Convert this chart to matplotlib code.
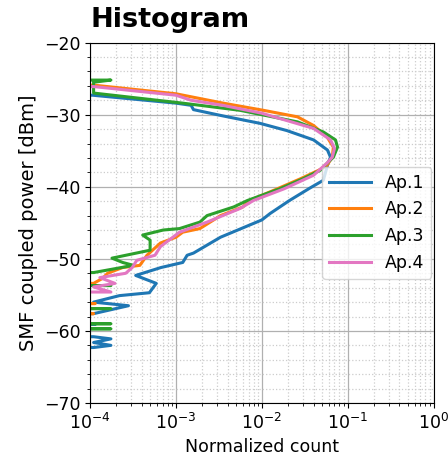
import numpy as np
import matplotlib
matplotlib.use("Agg")
import matplotlib.pyplot as plt
from matplotlib.ticker import MultipleLocator

# histogram of SMF coupled power per aperture (0 = empty bin)
power_ap1 = [-27.0, -27.3, -28.4, -28.7, -29.3, -30.1, -31.2, -32.2, -33.5, -34.9, -35.9, -36.7,
             -39.1, -40.2, -41.9, -43.7, -44.6, -47.0, -49.2, -49.5, -50.5, -51.2, -52.3, -53.4,
             -54.7, -55.1, -56.0, -56.5, -57.6, -58.2, -58.9, -59.1, -59.4, -60.6, -60.8, -61.1,
             -61.6, -62.0, -62.3, -62.6]
count_ap1 = [0, 1.07e-4, 1.0e-3, 1.5e-3, 1.6e-3, 3.3e-3, 9.5e-3, 1.95e-2, 4.0e-2, 5.8e-2, 6.3e-2, 5.9e-2,
             5.2e-2, 3.6e-2, 2.1e-2, 1.25e-2, 1.0e-2, 3.3e-3, 1.6e-3, 1.35e-3, 1.2e-3, 6.7e-4, 3.4e-4, 5.9e-4,
             4.9e-4, 2.2e-4, 1.1e-4, 2.8e-4, 1.1e-4, 0, 0, 1.15e-4, 0, 0, 1.1e-4, 1.75e-4,
             1.1e-4, 1.75e-4, 1.1e-4, 0]

power_ap2 = [-25.6, -25.9, -27.1, -28.4, -29.4, -30.3, -31.5, -33.1, -34.5, -35.9, -37.0, -37.7,
             -38.9, -40.3, -41.9, -42.8, -44.0, -45.8, -46.3, -47.0, -47.8, -49.5, -50.9, -51.2,
             -52.0, -52.7, -53.4, -53.8, -55.9, -56.2, -56.5, -57.4, -57.6, -57.9]
count_ap2 = [0, 1.1e-4, 1.0e-3, 3.55e-3, 1.05e-2, 2.6e-2, 4.0e-2, 5.75e-2, 6.8e-2, 6.6e-2, 5.75e-2, 4.6e-2,
             2.8e-2, 1.5e-2, 7.2e-3, 6.0e-3, 3.3e-3, 1.9e-3, 1.2e-3, 1.0e-3, 6.6e-4, 4.6e-4, 3.8e-4, 2.4e-4,
             1.6e-4, 1.4e-4, 1.1e-4, 0, 0, 1.15e-4, 0, 0, 1.1e-4, 0]

power_ap3 = [-24.9, -25.2, -25.5, -26.6, -27.0, -28.4, -29.4, -31.0, -32.4, -33.5, -34.5, -35.9,
             -36.6, -37.7, -38.9, -40.3, -41.9, -42.8, -44.0, -44.9, -45.8, -46.0, -46.7, -47.4,
             -48.8, -49.9, -50.5, -50.9, -51.9, -52.2, -53.5, -53.7, -53.9, -56.7, -56.9, -57.1,
             -58.8, -59.0, -59.2, -59.5, -59.7, -59.9]
count_ap3 = [0, 1.75e-4, 1.1e-4, 1.1e-4, 1.1e-4, 1.2e-3, 5.6e-3, 2.6e-2, 5.2e-2, 7.2e-2, 7.6e-2, 6.8e-2,
             5.9e-2, 4.8e-2, 3.0e-2, 1.6e-2, 6.8e-3, 4.7e-3, 2.3e-3, 1.9e-3, 1.1e-3, 7.1e-4, 4.1e-4, 5.0e-4,
             5.0e-4, 1.8e-4, 2.4e-4, 3.2e-4, 1.1e-4, 0, 0, 1.75e-4, 0, 0, 1.75e-4, 0,
             0, 1.75e-4, 0, 0, 1.75e-4, 0]

power_ap4 = [-25.8, -26.1, -27.3, -28.0, -28.7, -29.8, -31.9, -33.5, -34.7, -35.9, -36.7, -38.4,
             -40.3, -41.9, -43.0, -44.9, -46.3, -48.3, -49.5, -50.2, -51.2, -52.0, -52.6, -53.4,
             -53.9, -54.6, -54.9]
count_ap4 = [0, 1.1e-4, 1.0e-3, 1.5e-3, 3.5e-3, 1.0e-2, 4.0e-2, 6.3e-2, 7.0e-2, 6.6e-2, 5.75e-2, 4.0e-2,
             1.8e-2, 8.0e-3, 5.6e-3, 2.3e-3, 1.1e-3, 6.6e-4, 5.7e-4, 3.5e-4, 3.1e-4, 2.6e-4, 1.3e-4, 1.95e-4,
             1.1e-4, 1.75e-4, 0]

labels = ["Ap.1", "Ap.2", "Ap.3", "Ap.4"]
colors = ["#1f77b4", "#ff7f0e", "#2ca02c", "#e377c2"]

fig = plt.figure(figsize=(4.48, 4.58), dpi=100)
ax = fig.add_axes([0.201, 0.120, 0.767, 0.787])

series = [(count_ap1, power_ap1), (count_ap2, power_ap2), (count_ap3, power_ap3), (count_ap4, power_ap4)]
for (c, p), lab, col in zip(series, labels, colors):
    ax.plot(c, p, color=col, lw=2.2, label=lab)

ax.set_xscale("log")
ax.set_xlim(1e-4, 1)
ax.set_ylim(-70, -20)
ax.yaxis.set_minor_locator(MultipleLocator(2))
ax.grid(True, which="major", color="#b0b0b0", lw=0.9)
ax.grid(True, which="minor", color="#cccccc", ls=":", lw=0.9)
ax.set_axisbelow(True)
ax.tick_params(labelsize=12.5)

ax.set_xlabel("Normalized count", fontsize=12.5)
ax.set_ylabel("SMF coupled power [dBm]", fontsize=14)
ax.set_title("Histogram", loc="left", fontsize=19.5, fontweight="bold",
             fontfamily="DejaVu Sans", pad=11)
ax.legend(loc="center right", fontsize=12.5, borderaxespad=0.15, handlelength=2.4)

fig.savefig("out.png", dpi=100)
